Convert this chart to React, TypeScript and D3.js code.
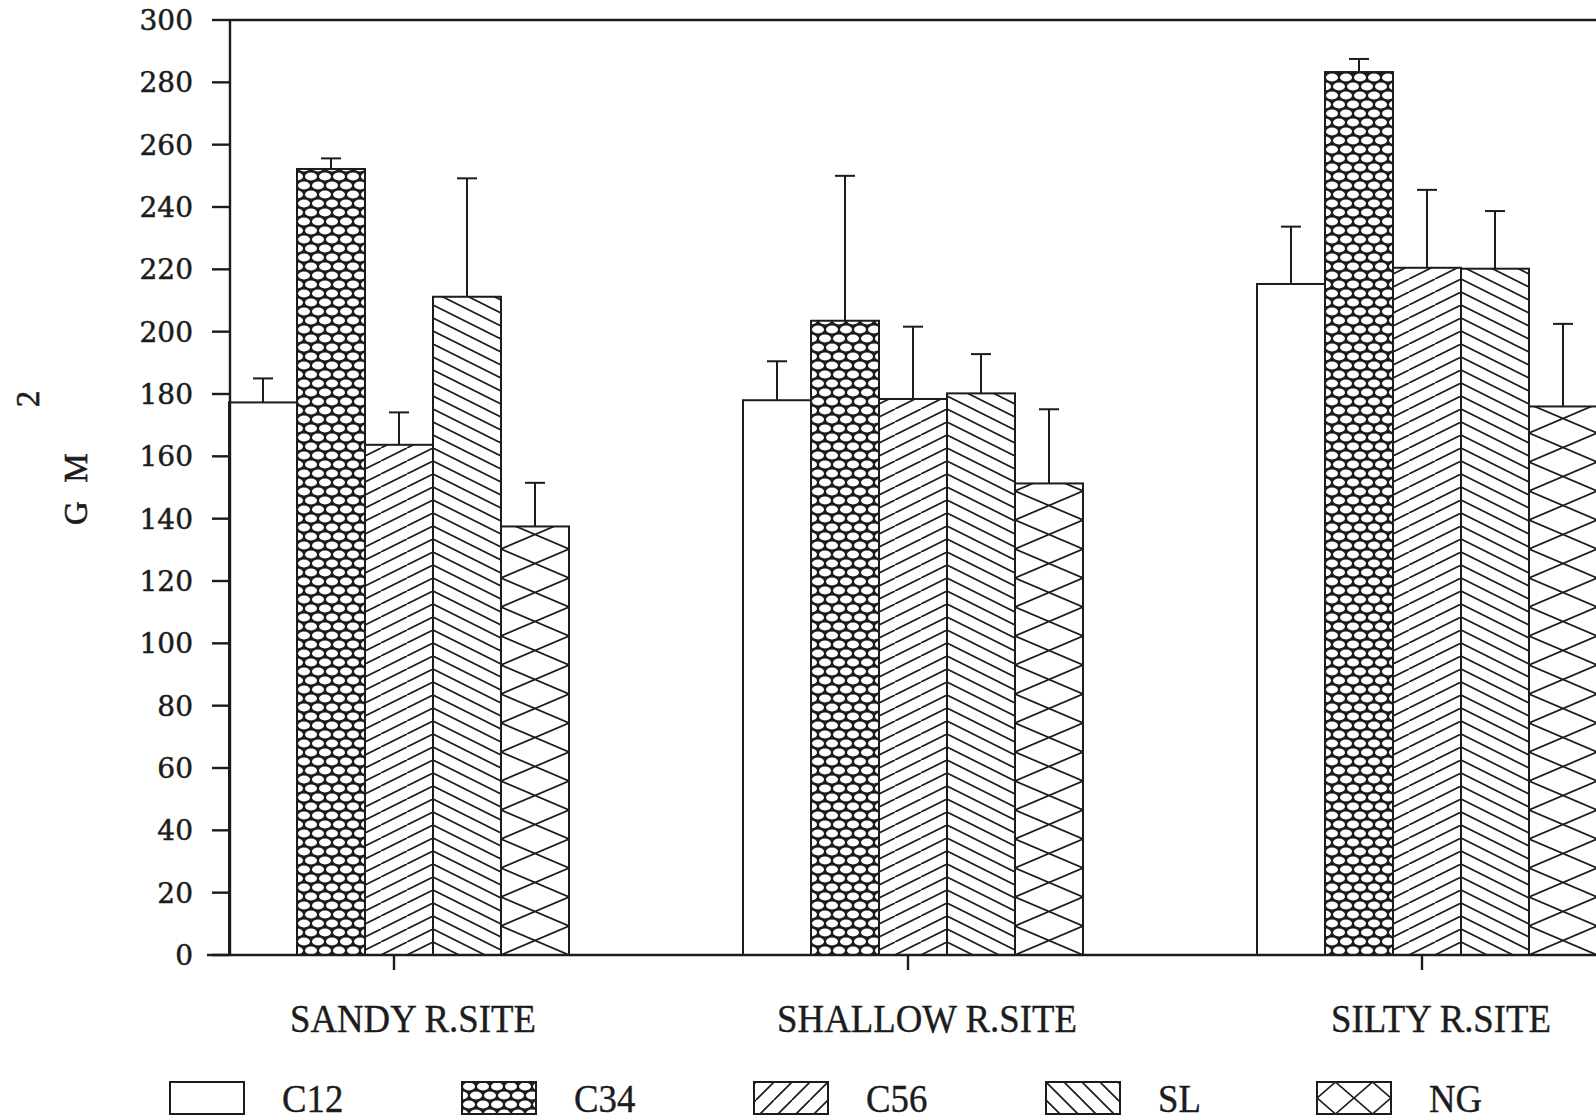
import React from "react";
import * as d3 from "d3";

// ---------- data ----------
const sites = ["SANDY R.SITE", "SHALLOW R.SITE", "SILTY R.SITE"];
const series = ["C12", "C34", "C56", "SL", "NG"];
const c12 = [177.3, 178, 215.3];
const c12Err = [7.7, 12.5, 18.4];
const c34 = [252.2, 203.5, 283.3];
const c34Err = [3.4, 46.5, 4.2];
const c56 = [163.7, 178.4, 220.5];
const c56Err = [10.4, 23.2, 25];
const sl = [211.2, 180.2, 220.2];
const slErr = [38, 12.6, 18.5];
const ng = [137.5, 151.3, 176];
const ngErr = [14, 23.8, 26.5];
const yTickValues = [0, 20, 40, 60, 80, 100, 120, 140, 160, 180, 200, 220, 240, 260, 280, 300];

const seriesValues: Record<string, number[]> = { C12: c12, C34: c34, C56: c56, SL: sl, NG: ng };
const seriesErrors: Record<string, number[]> = { C12: c12Err, C34: c34Err, C56: c56Err, SL: slErr, NG: ngErr };
const seriesKind: Record<string, string> = { C12: "none", C34: "mesh", C56: "fwd", SL: "back", NG: "diamond" };

// ---------- layout ----------
const W = 1596;
const H = 1120;
const INK = "#1c1c1c";
const AXIS_X = 230;

const y = d3.scaleLinear().domain([0, 300]).range([955, 20]);
const gx = d3.scalePoint<string>().domain(sites).range([399, 1427]);
const bx = d3.scaleBand<string>().domain(series).range([-170, 170]).padding(0);
const bw = bx.bandwidth();

function Pattern(props: { id: string; kind: string; x: number; y: number; legend?: boolean; w?: number }) {
  const { id, kind, x, y: py, legend } = props;
  const sw = 1.7;
  if (kind === "mesh") {
    const tw = 14, th = 18;
    const rx = 6.0, ry = 3.9;
    return (
      <pattern id={id} patternUnits="userSpaceOnUse" x={x} y={py} width={tw} height={th}>
        <rect x={0} y={0} width={tw} height={th} fill={INK} />
        <ellipse cx={7} cy={4.5} rx={rx} ry={ry} fill="#fff" />
        <ellipse cx={0} cy={13.5} rx={rx} ry={ry} fill="#fff" />
        <ellipse cx={14} cy={13.5} rx={rx} ry={ry} fill="#fff" />
      </pattern>
    );
  }
  if (kind === "fwd") {
    const tw = legend ? 18 : 26, th = legend ? 18 : 13;
    const d = `M${-tw},${th} L0,0 M0,${th} L${tw},0 M${tw},${th} L${2 * tw},0`;
    return (
      <pattern id={id} patternUnits="userSpaceOnUse" x={x} y={py} width={tw} height={th}>
        <path d={d} stroke={INK} strokeWidth={sw} fill="none" />
      </pattern>
    );
  }
  if (kind === "back") {
    const tw = legend ? 18 : 26, th = legend ? 18 : 13;
    const d = `M0,0 L${tw},${th} M${-tw},0 L${tw},${2 * th} M0,${-th} L${2 * tw},${th}`;
    return (
      <pattern id={id} patternUnits="userSpaceOnUse" x={x} y={py} width={tw} height={th}>
        <path d={d} stroke={INK} strokeWidth={sw} fill="none" />
      </pattern>
    );
  }
  if (kind === "diamond") {
    const tw = props.w ?? (legend ? 37 : bw), th = legend ? 32 : 29;
    const d =
      `M0,0 L${tw},${th} M0,${th} L${tw},0 ` +
      `M${-tw},${th} L${tw},${-th} M0,${2 * th} L${2 * tw},0 ` +
      `M${-tw},0 L${tw},${2 * th} M0,${-th} L${2 * tw},${th}`;
    return (
      <pattern id={id} patternUnits="userSpaceOnUse" x={x} y={py} width={tw} height={th}>
        <path d={d} stroke={INK} strokeWidth={sw} fill="none" />
      </pattern>
    );
  }
  return null;
}

export default function App() {
  const bars = sites.flatMap((site, si) =>
    series.map((s) => {
      const v = seriesValues[s][si];
      const e = seriesErrors[s][si];
      const x0 = (gx(site) as number) + (bx(s) as number);
      return { site, si, s, v, e, x0 };
    })
  );

  // legend layout computed from label lengths
  const legendX: number[] = [];
  series.forEach((s, i) => {
    if (i === 0) legendX.push(170);
    else legendX.push(legendX[i - 1] + 229 + series[i - 1].length * 21);
  });
  const legendY = 1082;
  const boxW = 74;
  const boxH = 32;

  return (
    <svg
      width={W}
      height={H}
      style={{ position: "absolute", left: 0, top: 0, background: "#fff" }}
      xmlns="http://www.w3.org/2000/svg"
    >
      <defs>
        {bars.map((b, i) => {
          const kind = seriesKind[b.s];
          if (kind === "none") return null;
          const px = kind === "fwd" ? b.x0 + bw : b.x0;
          return <Pattern key={i} id={`p-${b.si}-${b.s}`} kind={kind} x={px} y={y(0)} />;
        })}
        {series.map((s, i) => {
          const kind = seriesKind[s];
          if (kind === "none") return null;
          const px = kind === "fwd" ? legendX[i] + boxW : legendX[i];
          const py = kind === "diamond" ? legendY + boxH / 2 : legendY;
          return <Pattern key={s} id={`lg-${s}`} kind={kind} x={px} y={py} legend />;
        })}
      </defs>

      <rect x={0} y={0} width={W} height={H} fill="#fff" />

      {/* bars */}
      {bars.map((b, i) => (
        <rect
          key={`bar-${i}`}
          x={b.x0}
          y={y(b.v)}
          width={bw}
          height={y(0) - y(b.v)}
          fill={seriesKind[b.s] === "none" ? "#fff" : `url(#p-${b.si}-${b.s})`}
          stroke={INK}
          strokeWidth={2}
        />
      ))}

      {/* error bars */}
      {bars.map((b, i) => {
        const cx = b.x0 + bw / 2;
        return (
          <g key={`err-${i}`} stroke={INK} strokeWidth={2}>
            <line x1={cx} x2={cx} y1={y(b.v)} y2={y(b.v + b.e)} />
            <line x1={cx - 10} x2={cx + 10} y1={y(b.v + b.e)} y2={y(b.v + b.e)} />
          </g>
        );
      })}

      {/* axes frame */}
      <g stroke={INK} strokeWidth={2.4} fill="none">
        <line x1={AXIS_X} x2={AXIS_X} y1={y(300)} y2={y(0)} />
        <line x1={AXIS_X} x2={W} y1={y(300)} y2={y(300)} />
        <line x1={207} x2={W} y1={y(0)} y2={y(0)} />
        {yTickValues.map((t) => (
          <line key={t} x1={212} x2={AXIS_X} y1={y(t)} y2={y(t)} />
        ))}
        {sites.map((s) => (
          <line key={s} x1={(gx(s) as number) - 5} x2={(gx(s) as number) - 5} y1={y(0)} y2={y(0) + 15} />
        ))}
      </g>

      {/* y tick labels */}
      <g fontFamily="'DejaVu Serif', serif" fontSize={28} fill={INK} stroke={INK} strokeWidth={0.5} textAnchor="end">
        {yTickValues.map((t) => (
          <text key={t} x={193} y={y(t)} dy="0.36em">
            {t}
          </text>
        ))}
      </g>

      {/* y axis label */}
      <g fontFamily="'Liberation Serif', serif" fontSize={33} fill={INK} stroke={INK} strokeWidth={0.6} textAnchor="middle">
        <text transform={`translate(87,513) rotate(-90)`}>G</text>
        <text transform={`translate(87,468) rotate(-90)`}>M</text>
        <text transform={`translate(39,399) rotate(-90)`}>2</text>
      </g>

      {/* category labels */}
      <g fontFamily="'Liberation Serif', serif" fontSize={40} fill={INK} stroke={INK} strokeWidth={0.4} textAnchor="middle">
        {sites.map((s) => (
          <text key={s} transform={`translate(${(gx(s) as number) + 14},1032) scale(0.92,1)`}>
            {s}
          </text>
        ))}
      </g>

      {/* legend */}
      {series.map((s, i) => (
        <g key={`lg-${s}`}>
          <rect
            x={legendX[i]}
            y={legendY}
            width={boxW}
            height={boxH}
            fill={seriesKind[s] === "none" ? "#fff" : `url(#lg-${s})`}
            stroke={INK}
            strokeWidth={2}
          />
          <text
            transform={`translate(${legendX[i] + 112},1112) scale(0.92,1)`}
            fontFamily="'Liberation Serif', serif"
            fontSize={40}
            fill={INK}
            stroke={INK}
            strokeWidth={0.4}
          >
            {s}
          </text>
        </g>
      ))}
    </svg>
  );
}
